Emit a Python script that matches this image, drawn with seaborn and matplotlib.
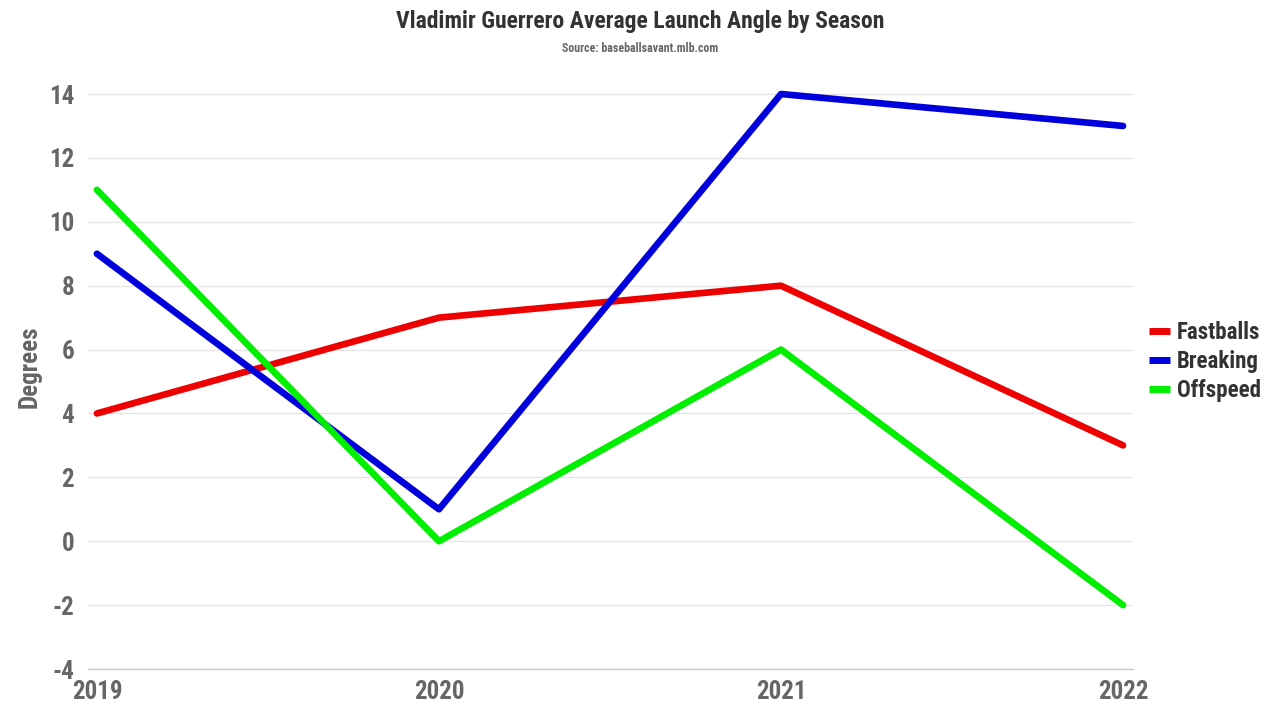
import matplotlib
matplotlib.use("Agg")
import matplotlib.pyplot as plt
import pandas as pd
import seaborn as sns
from matplotlib import font_manager

seasons = [2019, 2020, 2021, 2022]
fastballs = [4, 7, 8, 3]
breaking = [9, 1, 14, 13]
offspeed = [11, 0, 6, -2]
series_names = ["Fastballs", "Breaking", "Offspeed"]
colors = ["#ee0000", "#0000dd", "#00ee00"]
y_ticks = [-4, -2, 0, 2, 4, 6, 8, 10, 12, 14]

df = pd.DataFrame({
    "Season": seasons * 3,
    "Degrees": fastballs + breaking + offspeed,
    "Pitch": [n for n in series_names for _ in seasons],
})

sns.set_theme(style="white")
names = {f.name for f in font_manager.fontManager.ttflist}
family = "Roboto Condensed" if "Roboto Condensed" in names else "Roboto"
plt.rcParams["font.family"] = [family, "DejaVu Sans"]
plt.rcParams["axes.unicode_minus"] = False

fig = plt.figure(figsize=(12.8, 7.2), dpi=100)
ax = fig.add_axes([0.06875, 0.0708, 0.8164, 0.8075])

sns.lineplot(data=df, x="Season", y="Degrees", hue="Pitch",
             palette=dict(zip(series_names, colors)), linewidth=4.8,
             ax=ax, legend=False)

ax.set_xlim(2019 - 0.026, 2022 + 0.029)
ax.set_ylim(-4, 14.2)
ax.set_yticks(y_ticks)
ax.set_xticks(seasons)
ax.set_xticklabels([str(s) for s in seasons])
ax.grid(axis="y", color="#e3e3e3", linewidth=0.9)
ax.set_axisbelow(True)
for s in ["top", "right", "left"]:
    ax.spines[s].set_visible(False)
ax.spines["bottom"].set_color("#cccccc")
ax.spines["bottom"].set_linewidth(1)
ax.tick_params(axis="x", length=6, color="#cccccc", width=1, pad=2,
               labelsize=18, labelcolor="#666666")
ax.tick_params(axis="y", length=0, pad=10, labelsize=18, labelcolor="#666666")
for lab in ax.get_xticklabels() + ax.get_yticklabels():
    lab.set_fontweight("bold")
ax.set_xlabel("")
ax.set_ylabel("Degrees", fontsize=18, fontweight="bold", color="#666666")
ax.yaxis.set_label_coords(-0.044, 0.52)

handles = [plt.Line2D([], [], color=c, linewidth=5, solid_capstyle="butt") for c in colors]
leg = ax.legend(handles, series_names, loc="center left", bbox_to_anchor=(1.0, 0.529),
                frameon=False, handlelength=0.9, handletextpad=0.3,
                labelspacing=0.25, borderpad=0.2, prop={"size": 16.5, "weight": "bold"})
for t in leg.get_texts():
    t.set_color("#333333")

fig.text(0.5, 0.97, "Vladimir Guerrero Average Launch Angle by Season",
         ha="center", va="center", fontsize=17, fontweight="bold", color="#333333")
fig.text(0.5, 0.933, "Source: baseballsavant.mlb.com",
         ha="center", va="center", fontsize=8.6, fontweight="bold", color="#666666")

fig.savefig("out.png", dpi=100)
